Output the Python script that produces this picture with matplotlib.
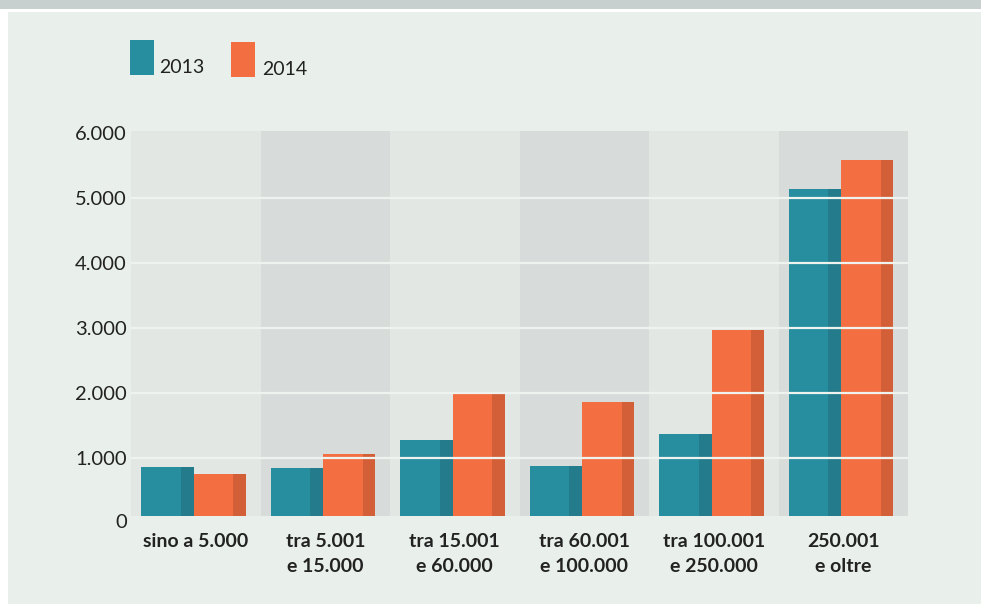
import matplotlib.pyplot as plt
from matplotlib.patches import Rectangle
import numpy as np

# data
categories = ['sino a 5.000', 'tra 5.001\ne 15.000', 'tra 15.001\ne 60.000',
              'tra 60.001\ne 100.000', 'tra 100.001\ne 250.000', '250.001\ne oltre']
years = ['2013', '2014']
v2013 = [860, 835, 1270, 870, 1365, 5130]
v2014 = [745, 1050, 1980, 1850, 2965, 5580]
yticks = [1000, 2000, 3000, 4000, 5000, 6000]
ytick_labels = ['1.000', '2.000', '3.000', '4.000', '5.000', '6.000']

# colours
teal, teal_dark = '#268e9f', '#237b8b'
orange, orange_dark = '#f36f42', '#d25f38'
band_light, band_dark = '#e2e7e4', '#d7dbda'
panel = '#e9efeb'
top_strip = '#c8cfcf'
txt = '#222222'

W, H = 981, 605
fig = plt.figure(figsize=(W / 100, H / 100), dpi=100)
fig.patch.set_facecolor('white')

# top grey strip and main panel (kept behind the axes)
fig.patches.append(Rectangle((0, 1 - 9 / H), 1, 9 / H, transform=fig.transFigure,
                             facecolor=top_strip, edgecolor='none', zorder=-5))
fig.patches.append(Rectangle((8 / W, 1 / H), 1 - 8 / W, (H - 13) / H, transform=fig.transFigure,
                             facecolor=panel, edgecolor='none', zorder=-5))

ax = fig.add_axes([131 / W, 89 / H, 777 / W, 385 / H])
ax.set_facecolor('none')
x = np.arange(len(categories))

# alternating column backgrounds
for i in x:
    ax.axvspan(i - 0.5, i + 0.5, color=band_light if i % 2 == 0 else band_dark, lw=0, zorder=0)

bw = 0.404
dark_frac = 0.243
left13 = x - 0.42
left14 = left13 + bw

ax.bar(left13, v2013, width=bw, align='edge', color=teal, lw=0, zorder=2)
ax.bar(left13 + bw * (1 - dark_frac), v2013, width=bw * dark_frac, align='edge',
       color=teal_dark, lw=0, zorder=2)
ax.bar(left14, v2014, width=bw, align='edge', color=orange, lw=0, zorder=2)
ax.bar(left14 + bw * (1 - dark_frac), v2014, width=bw * dark_frac, align='edge',
       color=orange_dark, lw=0, zorder=2)

# white gridlines over the bars
for t in yticks[:-1]:
    ax.axhline(t, color='#eef3f0', lw=1.6, zorder=3)

ax.set_xlim(-0.5, 5.5)
ax.set_ylim(100, 6025)
for s in ax.spines.values():
    s.set_visible(False)

ax.set_yticks(yticks, ytick_labels)
ax.set_xticks(x, categories)
ax.tick_params(axis='y', length=0, pad=3, labelsize=14.5, labelcolor=txt)
ax.tick_params(axis='x', length=0, pad=12, labelsize=14, labelcolor=txt)
for lab in ax.get_yticklabels():
    lab.set_fontfamily('Lato')
for lab in ax.get_xticklabels():
    lab.set_fontfamily('Lato')
    lab.set_fontweight('bold')
    lab.set_linespacing(1.6)

# the zero label sits just below the plot area
ax.annotate('0', xy=(0, 0), xycoords=('axes fraction', 'data'), xytext=(-4, 0),
            textcoords='offset pixels', ha='right', va='center', fontsize=14.5,
            family='Lato', color=txt, annotation_clip=False)

# legend
fig.patches.append(Rectangle((130 / W, (H - 75) / H), 24 / W, 35 / H, transform=fig.transFigure,
                             facecolor=teal, edgecolor='none'))
fig.text(159 / W, (H - 73) / H, years[0], ha='left', va='baseline', fontsize=14,
         family='Lato', color=txt)
fig.patches.append(Rectangle((231 / W, (H - 77) / H), 24 / W, 35 / H, transform=fig.transFigure,
                             facecolor=orange, edgecolor='none'))
fig.text(262 / W, (H - 75) / H, years[1], ha='left', va='baseline', fontsize=14,
         family='Lato', color=txt)

fig.savefig('out.png', dpi=100)
